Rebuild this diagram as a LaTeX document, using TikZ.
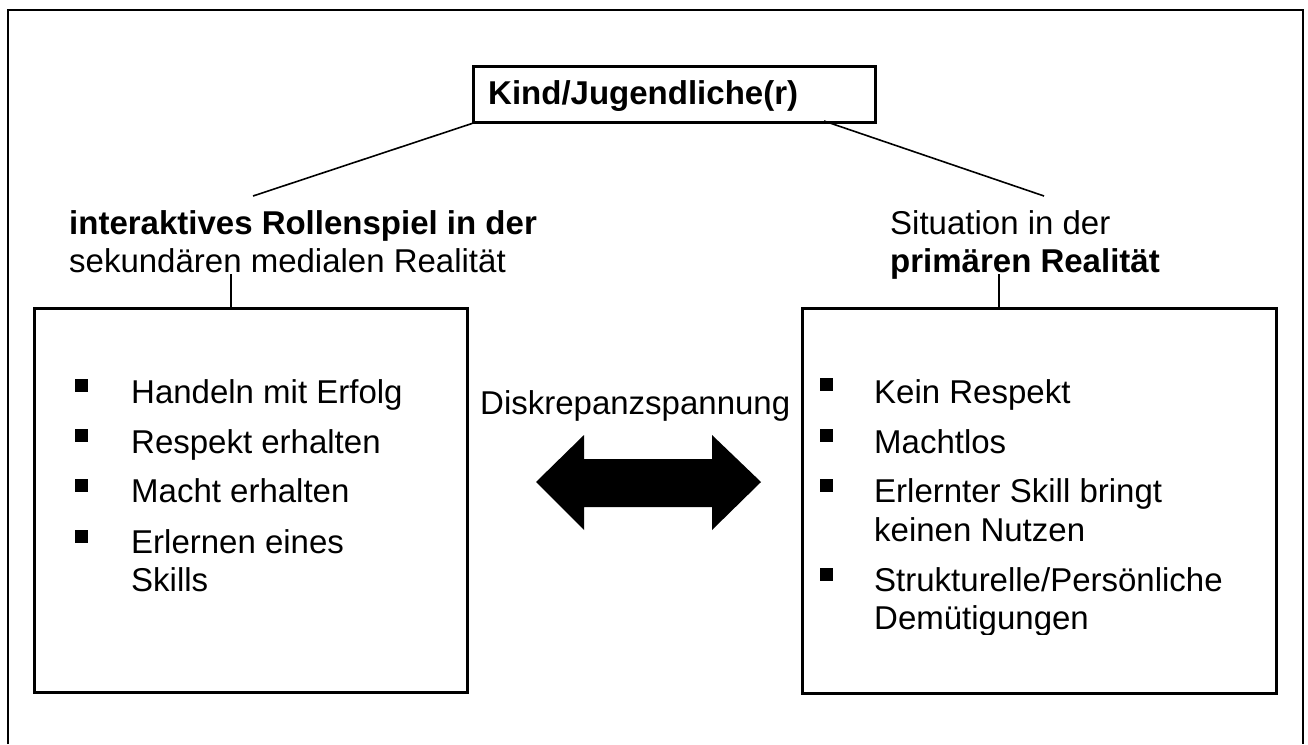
\documentclass[tikz,border=0pt]{standalone}
\usepackage{fontspec}
\setmainfont{Liberation Sans}
\newcommand\diagfont{\fontsize{33}{38}\selectfont}
\begin{document}
\begin{tikzpicture}[x=1pt,y=-1pt,
  frame/.style={line width=2.5pt},
  box/.style={draw, line width=2.5pt, inner sep=0pt, anchor=north west},
  link/.style={line width=1.6pt},
  txt/.style={anchor=base west, inner sep=0pt, font=\diagfont},
  boldtxt/.style={txt, font=\diagfont\bfseries},
  bul/.style={fill=black, minimum size=13pt, inner sep=0pt, anchor=north west},
]
\useasboundingbox (0,0) rectangle (1308,744);
\fill[white] (0,0) rectangle (1308,744);

% outer frame (open at the bottom)
\draw[frame] (8,744) -- (8,10) -- (1303,10) -- (1303,744);

% top box
\node[box, minimum width=402pt, minimum height=56pt] (kind) at (472,65) {};
\node[boldtxt] (kindtxt) at (488,104) {Kind/Jugendliche(r)};

% headings
\node[boldtxt] (lhead1) at (69,234) {interaktives Rollenspiel in der};
\node[txt] (lhead2) at (69,272) {sekundären medialen Realität};
\node[txt] (rhead1) at (890,234) {Situation in der};
\node[boldtxt] (rhead2) at (890,272) {primären Realität};

% connector end points
\coordinate (kindR) at (824,121);
\coordinate (lheadtop) at (253,196);
\coordinate (rheadtop) at (1044,196);
\coordinate (lheadfoot) at (231,274);
\coordinate (rheadfoot) at (999,274);

% boxes
\node[box, minimum width=433pt, minimum height=384pt] (lbox) at (33,307) {};
\node[box, minimum width=474pt, minimum height=385pt] (rbox) at (801,307) {};

% connectors
\draw[link] (kind.south west) -- (lheadtop);
\draw[link] (kindR) -- (rheadtop);
\draw[link] (lheadfoot) -- (lheadfoot |- lbox.north);
\draw[link] (rheadfoot) -- (rheadfoot |- rbox.north);

% left list
\node[bul] (lb1) at (75,378.5) {};
\node[bul] (lb2) at (75,429) {};
\node[bul] (lb3) at (75,479) {};
\node[bul] (lb4) at (75,530) {};
\node[txt] (lt1) at (131,403) {Handeln mit Erfolg};
\node[txt] (lt2) at (131,453) {Respekt erhalten};
\node[txt] (lt3) at (131,502) {Macht erhalten};
\node[txt] (lt4a) at (131,553) {Erlernen eines};
\node[txt] (lt4b) at (131,591) {Skills};

% right list (text area clipped at its lower edge)
\begin{scope}
\clip (801,300) rectangle (1275,634);
\node[bul] (rb1) at (820,377.5) {};
\node[bul] (rb2) at (820,429) {};
\node[bul] (rb3) at (820,479) {};
\node[bul] (rb4) at (820,568) {};
\node[txt] (rt1) at (874,403) {Kein Respekt};
\node[txt] (rt2) at (874,453) {Machtlos};
\node[txt] (rt3a) at (874,502) {Erlernter Skill bringt};
\node[txt] (rt3b) at (874,541) {keinen Nutzen};
\node[txt] (rt4a) at (874,591) {Strukturelle/Persönliche};
\node[txt] (rt4b) at (874,629) {Demütigungen};
\end{scope}

% tension label and double arrow
\node[txt] (tension) at (480,414) {Diskrepanzspannung};
\fill (536,482) -- (584,435) -- (584,459) -- (712,459) -- (712,435) -- (761,482)
  -- (712,530) -- (712,507) -- (584,507) -- (584,530) -- cycle;
\end{tikzpicture}
\end{document}
